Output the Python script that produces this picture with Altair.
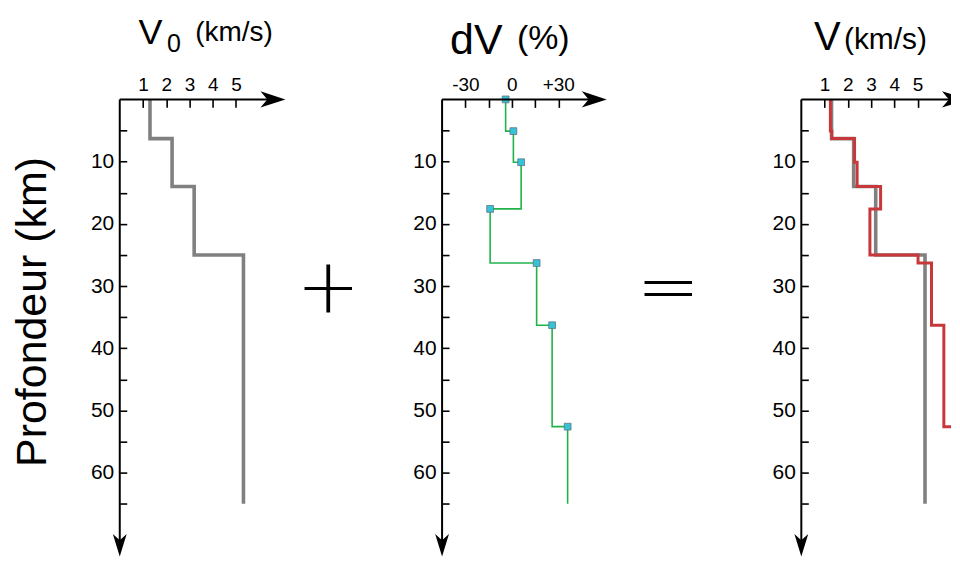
import altair as alt
import pandas as pd

FONT = "Liberation Sans"

# ---- data ----
bottom_depth = 65
# reference velocity model V0 (km/s): layer tops (km) and velocities
v0_top = [0, 6.3, 14, 25]
v0_val = [1.3, 2.25, 3.2, 5.32]
# perturbation dV (%): layer tops (km) and values
dv_top = [0, 5.1, 10.1, 17.6, 26.3, 36.3, 52.6]
dv_val = [-4, 1, 6, -14, 16, 26, 36]
# resulting model V (km/s)
v_top = [0, 5.1, 6.3, 10.1, 14, 17.6, 25, 26.3, 36.3, 52.6]
v_val = [1.25, 1.31, 2.29, 2.4, 3.41, 2.95, 5.02, 5.6, 6.13, 6.74]

v_ticks = [1, 2, 3, 4, 5]
dv_ticks = [-30, -15, 0, 15, 30]
depth_ticks = [5, 10, 15, 20, 25, 30, 35, 40, 45, 50, 55, 60, 65]


def steps(tops, vals, bottom):
    rows = []
    k = 0
    for i, (t, v) in enumerate(zip(tops, vals)):
        b = tops[i + 1] if i + 1 < len(tops) else bottom
        rows.append({"x": v, "depth": t, "o": k}); k += 1
        rows.append({"x": v, "depth": b, "o": k}); k += 1
    return pd.DataFrame(rows)


PXKM = 6.235         # px per km of depth
H = 458
DMAX = H / PXKM
PXV = 23.3           # px per km/s
PXD = PXV / 15.0     # px per %
ONE = pd.DataFrame({"a": [0]})

ARROW_R = "M0,0 L-2,-0.66 L-1.45,0 L-2,0.66 Z"
# arrow head cut by the right edge of the figure (only its back part shows)
ARROW_R_CUT = "M-1.28,-0.4224 L-2,-0.66 L-1.45,0 L-2,0.66 L-1.28,0.4224 Z"
ARROW_D = "M0,0 L-0.62,-2 L0,-1.45 L0.62,-2 Z"

Y = alt.Y(
    "depth:Q",
    scale=alt.Scale(domain=[0, DMAX], reverse=True, nice=False, zero=False),
    axis=alt.Axis(
        orient="left", values=depth_ticks,
        labelExpr="datum.value % 10 == 0 ? datum.label : ''",
        offset=-7, tickSize=7, domain=False, grid=False,
        labelPadding=6, labelFont=FONT, labelFontSize=21,
        labelColor="black", tickColor="black", tickWidth=1.6,
        title=None, labelOverlap=False, labelBound=False, labelFlush=False,
    ),
)


def xenc(domain, values, label_expr=None):
    kw = dict(
        orient="top", values=values, offset=-8, tickSize=8, domain=False,
        grid=False, labelPadding=5, labelFont=FONT, labelFontSize=19,
        labelColor="black", tickColor="black", tickWidth=1.6, title=None,
        labelOverlap=False, labelBound=False, labelFlush=False,
    )
    if label_expr:
        kw["labelExpr"] = label_expr
    return alt.X("x:Q", scale=alt.Scale(domain=domain, nice=False, zero=False),
                 axis=alt.Axis(**kw))


def frame(arrow_x, line_end, shape):
    base = alt.Chart(ONE)
    vline = base.mark_rule(color="black", strokeWidth=2).encode(
        x=alt.value(0), y=alt.value(0), y2=alt.value(H - 12))
    hline = base.mark_rule(color="black", strokeWidth=2).encode(
        x=alt.value(0), x2=alt.value(line_end), y=alt.value(0))
    ar = base.mark_point(shape=shape, filled=True, size=625, color="black",
                         opacity=1, strokeWidth=0).encode(
        x=alt.value(arrow_x), y=alt.value(0))
    ad = base.mark_point(shape=ARROW_D, filled=True, size=500, color="black",
                         opacity=1, strokeWidth=0).encode(
        x=alt.value(0), y=alt.value(H))
    return [vline, hline, ar, ad]


def label(text, x, y, size, **kw):
    args = dict(text=text, align="left", baseline="alphabetic", fontSize=size,
                font=FONT, color="black")
    args.update(kw)
    return alt.Chart(ONE).mark_text(**args).encode(x=alt.value(x), y=alt.value(y))


# ---- panel 1 : V0 ----
W1 = 166
X1 = xenc([0, W1 / PXV], v_ticks)
v0_df = steps(v0_top, v0_val, bottom_depth)
p1_line = alt.Chart(v0_df).mark_line(color="#808080", strokeWidth=3.6,
                                     strokeJoin="miter").encode(
    x=X1, y=Y, order="o:Q")
p1 = alt.layer(
    p1_line, *frame(166, 155, ARROW_R),
    label("V", 18.7, -55.3, 36),
    label("0", 47.4, -47, 25),
    label("(km/s)", 75.7, -58.6, 28),
    label("Profondeur (km)", -87.2, 213, 43, angle=270, align="center",
          baseline="middle"),
).properties(width=W1, height=H)

# ---- panel 2 : dV ----
W2 = 203
dv_df = steps(dv_top, dv_val, bottom_depth)
dv_pts = pd.DataFrame({"x": dv_val, "depth": dv_top})
X2 = xenc([-45, -45 + W2 / PXD], dv_ticks,
          "datum.value == 0 ? '0' : datum.value == 30 ? '+30' : datum.value == -30 ? '-30' : ''")
p2_line = alt.Chart(dv_df).mark_line(color="#22b24c", strokeWidth=1.6,
                                     strokeJoin="miter").encode(
    x=X2, y=Y, order="o:Q")
p2_pts = alt.Chart(dv_pts).mark_point(shape="square", filled=True, size=46,
                                      color="#34c3d8", stroke="#5f7480",
                                      strokeWidth=0.8, opacity=1).encode(
    x=X2, y=Y)
p2 = alt.layer(
    p2_line, p2_pts, *frame(165, 154, ARROW_R),
    label("dV", 8, -45.6, 43),
    label("(%)", 75, -50.3, 34),
    label("+", -114, 191, 76, align="center", baseline="middle",
          font="DejaVu Sans", fontWeight=200),
).properties(width=W2, height=H)

# ---- panel 3 : V = V0 + dV ----
W3 = 150
X3 = xenc([0, W3 / PXV], v_ticks)
v_df = steps(v_top, v_val, bottom_depth)
p3_gray = alt.Chart(v0_df).mark_line(color="#808080", strokeWidth=3.6,
                                     strokeJoin="miter", clip=True).encode(
    x=X3, y=Y, order="o:Q")
p3_red = alt.Chart(v_df).mark_line(color="#c8383a", strokeWidth=3,
                                   strokeJoin="miter", clip=True).encode(
    x=X3, y=Y, order="o:Q")
p3 = alt.layer(
    p3_gray, p3_red, *frame(166, 150, ARROW_R_CUT),
    label("V", 12.7, -49.3, 40),
    label("(km/s)", 42.7, -50, 30),
    label("=", -133.3, 191, 76, align="center", baseline="middle",
          font="DejaVu Sans", fontWeight=200),
).properties(width=W3, height=H)

chart = alt.hconcat(p1, p2, p3, spacing=157, bounds="flush").configure_view(
    stroke=None
).properties(padding={"left": 3, "top": 6, "right": 0, "bottom": 0})

chart.save("out.html", embed_options={"renderer": "svg", "actions": False})
